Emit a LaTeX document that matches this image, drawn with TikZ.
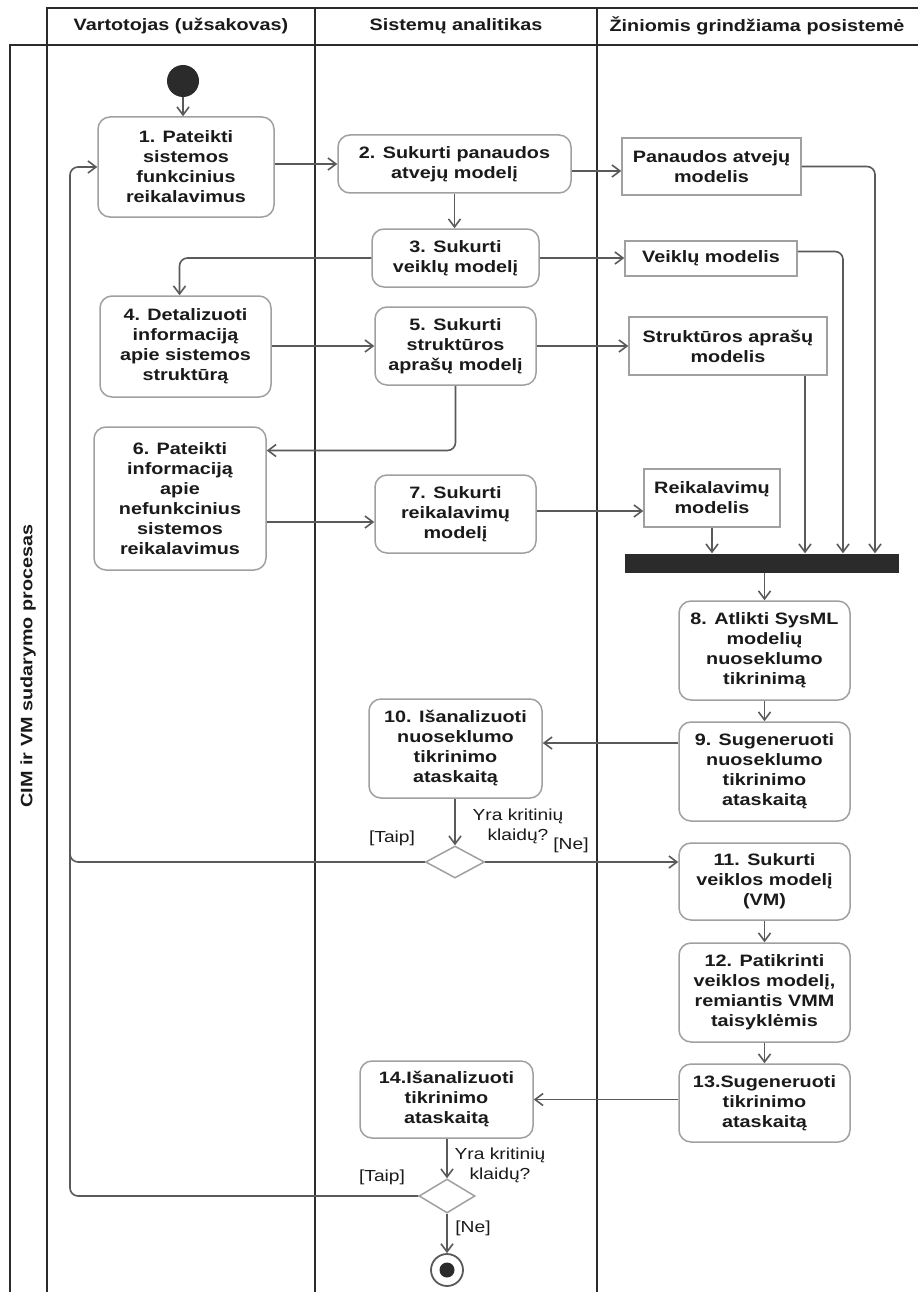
\documentclass[tikz,border=0pt]{standalone}
\usepackage{fontspec}
\setmainfont{Liberation Sans}[FakeStretch=1.2]
\usetikzlibrary{arrows.meta,shapes.geometric}
\definecolor{frame}{HTML}{2B2B2B}
\definecolor{edge}{HTML}{5A5A5A}
\definecolor{boxline}{HTML}{A0A0A0}
\definecolor{txt}{HTML}{1A1A1A}
\begin{document}
\begin{tikzpicture}[x=1pt,y=-1pt,
  lane/.style={draw=frame,line width=2.8pt},
  act/.style={draw=boxline,line width=1.5pt,rounded corners=12pt,fill=white,align=center,inner sep=2pt,font=\fontsize{16.5}{20}\selectfont\bfseries,text=txt},
  obj/.style={draw=boxline,line width=1.5pt,fill=white,align=center,inner sep=2pt,font=\fontsize{16.5}{20}\selectfont\bfseries,text=txt},
  hdr/.style={font=\fontsize{16.5}{20}\selectfont\bfseries,text=txt,inner sep=0pt},
  lbl/.style={align=center,font=\fontsize{16}{20}\selectfont,text=txt,inner sep=0pt},
  dec/.style={diamond,draw=boxline,line width=1.5pt,fill=white,minimum width=59pt,minimum height=32pt,inner sep=0pt},
  arr/.style={draw=edge,line width=1.6pt,-{Straight Barb[length=8pt,width=12pt]}},
  ln/.style={draw=edge,line width=1.6pt}
]
\useasboundingbox (0,0) rectangle (918,1292);
\fill[white] (0,0) rectangle (918,1292);
% frame and lanes
\draw[lane] (47,1292) -- (47,8) -- (918,8);
\draw[lane] (10,1292) -- (10,45) -- (918,45);
\draw[lane] (315,8) -- (315,1292);
\draw[lane] (597,8) -- (597,1292);
\node[hdr] (h1) at (181,26) {Vartotojas (užsakovas)};
\node[hdr] (h2) at (456,26) {Sistemų analitikas};
\node[hdr] (h3) at (757,26) {Žiniomis grindžiama posistemė};
\node[hdr,rotate=90] (pool) at (28,666) {CIM ir VM sudarymo procesas};
\coordinate (loopx) at (70,0);
% nodes
\node[circle,fill=frame,minimum size=32pt,inner sep=0pt] (st) at (183,81) {};
\node[act,minimum width=176pt,minimum height=100pt] (b1) at (186,167) {1. Pateikti\\sistemos\\funkcinius\\reikalavimus};
\node[act,minimum width=233pt,minimum height=58pt] (b2) at (454.5,164) {2. Sukurti panaudos\\atvejų modelį};
\node[obj,minimum width=179pt,minimum height=57pt] (p1) at (711.5,166.5) {Panaudos atvejų\\modelis};
\node[act,minimum width=167pt,minimum height=58pt] (b3) at (455.5,258) {3. Sukurti\\veiklų modelį};
\node[obj,minimum width=172pt,minimum height=35pt] (p2) at (711,258.5) {Veiklų modelis};
\node[act,minimum width=171pt,minimum height=101pt] (b4) at (185.5,346.5) {4. Detalizuoti\\informaciją\\apie sistemos\\struktūrą};
\node[act,minimum width=161pt,minimum height=78pt] (b5) at (455.5,346) {5. Sukurti\\struktūros\\aprašų modelį};
\node[obj,minimum width=198pt,minimum height=58pt] (p3) at (728,346) {Struktūros aprašų\\modelis};
\node[act,minimum width=172pt,minimum height=143pt] (b6) at (180,498.5) {6. Pateikti\\informaciją\\apie\\nefunkcinius\\sistemos\\reikalavimus};
\node[act,minimum width=161pt,minimum height=78pt] (b7) at (455.5,514) {7. Sukurti\\reikalavimų\\modelį};
\node[obj,minimum width=136pt,minimum height=58pt] (p4) at (712,498) {Reikalavimų\\modelis};
\node[fill=frame,minimum width=274pt,minimum height=19pt,inner sep=0pt] (bar) at (762,563) {};
\node[act,minimum width=171pt,minimum height=99pt] (b8) at (764.5,650.5) {8. Atlikti SysML\\modelių\\nuoseklumo\\tikrinimą};
\node[act,minimum width=171pt,minimum height=99pt] (b9) at (764.5,771.5) {9. Sugeneruoti\\nuoseklumo\\tikrinimo\\ataskaitą};
\node[act,minimum width=173pt,minimum height=99pt] (b10) at (455.5,748.5) {10. Išanalizuoti\\nuoseklumo\\tikrinimo\\ataskaitą};
\node[dec] (d1) at (455,862) {};
\node[act,minimum width=171pt,minimum height=77pt] (b11) at (764.5,881.5) {11. Sukurti\\veiklos modelį\\(VM)};
\node[act,minimum width=171pt,minimum height=99pt] (b12) at (764.5,992.5) {12. Patikrinti\\veiklos modelį,\\remiantis VMM\\taisyklėmis};
\node[act,minimum width=171pt,minimum height=78pt] (b13) at (764.5,1103) {13.Sugeneruoti\\tikrinimo\\ataskaitą};
\node[act,minimum width=173pt,minimum height=77pt] (b14) at (446.5,1099.5) {14.Išanalizuoti\\tikrinimo\\ataskaitą};
\node[dec,minimum width=56pt,minimum height=34pt] (d2) at (447,1196) {};
\node[circle,draw=edge,line width=1.8pt,fill=white,minimum size=32pt,inner sep=0pt] (fin) at (447,1270) {};
\node[circle,fill=frame,minimum size=15pt,inner sep=0pt] (finc) at (fin.center) {};
% labels
\node[lbl] (q1) at (518,826) {Yra kritinių\\klaidų?};
\node[lbl] (t1) at (392,838) {[Taip]};
\node[lbl] (n1) at (571,845) {[Ne]};
\node[lbl] (q2) at (500,1165) {Yra kritinių\\klaidų?};
\node[lbl] (t2) at (382,1177) {[Taip]};
\node[lbl] (n2) at (473,1228) {[Ne]};
% helper coordinates
\coordinate (p1in) at ([yshift=-4.5pt]p1.west);
\coordinate (b7in) at ([yshift=-8pt]b7.west);
\coordinate (b7out) at ([yshift=3pt]b7.east);
\coordinate (p2out) at ([yshift=7pt]p2.east);
\coordinate (b10in) at ([yshift=5.5pt]b10.east);
\coordinate (b4in) at ([xshift=-6pt]b4.north);
\coordinate (b6in) at ([yshift=48pt]b6.east);
\coordinate (j1) at ([xshift=113pt]bar.north);
\coordinate (j2) at ([xshift=81pt]bar.north);
\coordinate (p3out) at ([xshift=77pt]p3.south);
\coordinate (loopup) at ([yshift=40pt]loopx |- d1.west);
% connectors
\draw[arr] (st.south) -- (st.south |- b1.north);
\draw[arr] (b1.east |- b2.west) -- (b2.west);
\draw[arr] (b2.east |- p1in) -- (p1in);
\draw[arr] (b2.south) -- (b2.south |- b3.north);
\draw[arr] (b3.east) -- (b3.east -| p2.west);
\draw[arr,rounded corners=8pt] (b3.west) -| (b4in);
\draw[arr] (b4.east |- b5.west) -- (b5.west);
\draw[arr] (b5.east) -- (p3.west);
\draw[arr,rounded corners=8pt] (b5.south) |- (b6in);
\draw[arr] (b6.east |- b7in) -- (b7in);
\draw[arr] (b7out) -- (b7out -| p4.west);
\draw[arr,rounded corners=8pt] (p1.east) -| (j1);
\draw[arr,rounded corners=8pt] (p2out) -| (j2);
\draw[arr] (p3out) -- (p3out |- bar.north);
\draw[arr] (p4.south) -- (p4.south |- bar.north);
\draw[arr] (b8.north |- bar.south) -- (b8.north);
\draw[arr] (b8.south) -- (b9.north);
\draw[arr] (b9.west |- b10in) -- (b10in);
\draw[arr] (b10.south -| d1.north) -- (d1.north);
\draw[arr] (d1.east) -- (d1.east -| b11.west);
\draw[arr,rounded corners=8pt] (d1.west) -- (loopx |- d1.west) -- (loopx |- b1.west) -- (b1.west);
\draw[arr] (b11.south) -- (b12.north);
\draw[arr] (b12.south) -- (b13.north);
\draw[arr] (b13.west |- b14.east) -- (b14.east);
\draw[arr] (b14.south -| d2.north) -- (d2.north);
\draw[ln,rounded corners=8pt] (d2.west) -| (loopup);
\draw[arr] (d2.south) -- (fin.north);
\end{tikzpicture}
\end{document}
